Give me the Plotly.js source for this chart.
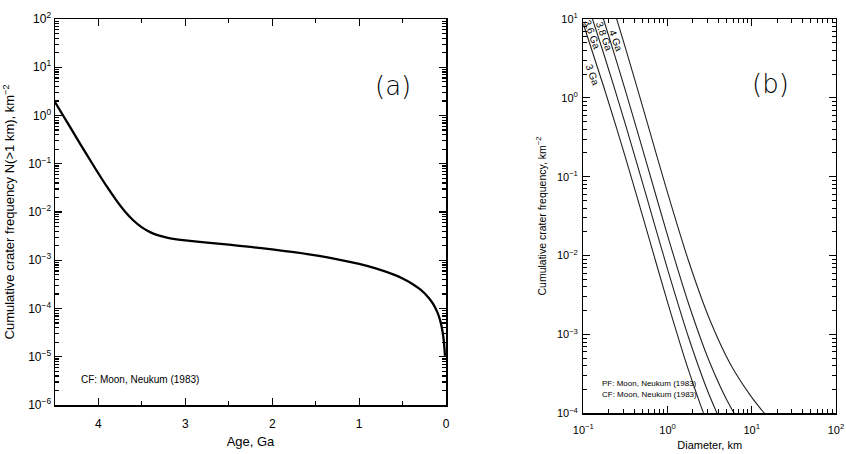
<!DOCTYPE html>
<html><head><meta charset="utf-8">
<script src="https://cdn.plot.ly/plotly-3.0.1.min.js"></script>
<style>html,body{margin:0;padding:0;background:#fff}#chart{width:846px;height:454px}</style>
</head><body><div id="chart"></div>
<script>
// Panel (a): cumulative crater frequency N(>1 km) versus age (Neukum 1983 chronology)
const ageGa = [4.5, 4.4, 4.3, 4.2, 4.1, 4.0, 3.9, 3.8, 3.7, 3.6, 3.5, 3.4, 3.3, 3.2, 3.1, 3.0,
  2.75, 2.5, 2.25, 2.0, 1.75, 1.5, 1.25, 1.0, 0.8, 0.6, 0.5, 0.4, 0.3, 0.2, 0.15, 0.1,
  0.07, 0.05, 0.035, 0.025, 0.018, 0.012];
const cumN1km = [1.906, 0.9548, 0.4792, 0.2414, 0.1224, 0.0628, 0.0330, 0.01805, 0.01053, 0.006735,
  0.004791, 0.003778, 0.003230, 0.002914, 0.002714, 0.002572,
  0.002315, 0.002097, 0.001886, 0.001676, 0.0014665, 0.001257, 0.0010475, 0.000838, 0.00067,
  0.000503, 0.000419, 0.000335, 0.000251, 0.000168, 0.000126, 0.000084,
  0.000059, 0.000042, 0.000029, 0.000021, 0.000015, 0.0000104];

// Panel (b): isochrons, cumulative crater frequency versus diameter
const diameterKm = [0.1, 0.17783, 0.31623, 0.56234, 1, 1.7783, 3.1623, 5.6234, 10, 13.335, 17.783];
const isoAges = ['3 Ga', '3.6 Ga', '3.8 Ga', '4 Ga'];
const iso3Ga  = [8.70, 1.306, 0.1762, 0.02150, 0.002572, 3.494e-4, 6.33e-5, 1.70e-5, 6.5e-6, 4.4e-6, 3.0e-6];
const iso36Ga = [22.8, 3.42, 0.4614, 0.05630, 0.006735, 9.149e-4, 1.658e-4, 4.44e-5, 1.708e-5, 1.156e-5, 7.93e-6];
const iso38Ga = [61.1, 9.17, 1.237, 0.1510, 0.01805, 0.002453, 4.446e-4, 1.190e-4, 4.58e-5, 3.10e-5, 2.13e-5];
const iso4Ga  = [212.6, 31.9, 4.305, 0.5253, 0.06281, 0.008532, 0.001547, 4.139e-4, 1.594e-4, 1.078e-4, 7.40e-5];
const isoSeries = [iso3Ga, iso36Ga, iso38Ga, iso4Ga];
// label anchor (log10 D, log10 N) for each isochron label
const isoLabelLogD = [-0.897, -0.895, -0.760, -0.606];
const isoLabelLogN = [0.290, 0.804, 0.785, 0.721];

const yTicksA = [1e-6, 1e-5, 1e-4, 1e-3, 1e-2, 1e-1, 1, 10, 100];
const yTickTextA = ['10<sup>\u22126</sup>','10<sup>\u22125</sup>','10<sup>\u22124</sup>','10<sup>\u22123</sup>',
  '10<sup>\u22122</sup>','10<sup>\u22121</sup>','10<sup>0</sup>','10<sup>1</sup>','10<sup>2</sup>'];
const xTicksB = [0.1, 1, 10, 100];
const xTickTextB = ['10<sup>\u22121</sup>','10<sup>0</sup>','10<sup>1</sup>','10<sup>2</sup>'];
const yTicksB = [1e-4, 1e-3, 1e-2, 1e-1, 1, 10];
const yTickTextB = ['10<sup>\u22124</sup>','10<sup>\u22123</sup>','10<sup>\u22122</sup>','10<sup>\u22121</sup>','10<sup>0</sup>','10<sup>1</sup>'];

const FONT = 'Liberation Sans, Arial, sans-serif';
const traces = [{
  x: ageGa, y: cumN1km, xaxis: 'x', yaxis: 'y', mode: 'lines',
  line: {color: '#000', width: 2.3, shape: 'spline', smoothing: 0.8}, hoverinfo: 'skip'
}];
isoSeries.forEach((s, i) => traces.push({
  x: diameterKm, y: s, xaxis: 'x2', yaxis: 'y2', mode: 'lines', name: isoAges[i],
  line: {color: '#222', width: 1.1, shape: 'spline', smoothing: 0.8}, hoverinfo: 'skip'
}));

const axBase = {showgrid: false, zeroline: false, showline: true, linecolor: '#000', mirror: 'allticks',
  ticks: 'inside', tickcolor: '#000', color: '#000'};

const annotations = [
  {text: '(a)', xref: 'paper', yref: 'paper', x: 393/846, y: 1 - 69/454, showarrow: false,
   font: {family: 'DejaVu Sans', size: 26, color: '#000', weight: 200}},
  {text: '(b)', xref: 'paper', yref: 'paper', x: 791/846, y: 1 - 67/454, showarrow: false,
   font: {family: 'DejaVu Sans', size: 26, color: '#000', weight: 200}},
  {text: 'CF: Moon, Neukum (1983)', xref: 'paper', yref: 'paper', x: 79/846, y: 1 - 379/454,
   xanchor: 'left', yanchor: 'middle', showarrow: false, font: {family: FONT, size: 10, color: '#000'}},
  {text: 'PF: Moon, Neukum (1983)', xref: 'paper', yref: 'paper', x: 600/846, y: 1 - 383/454,
   xanchor: 'left', yanchor: 'middle', showarrow: false, font: {family: FONT, size: 8, color: '#000'}},
  {text: 'CF: Moon, Neukum (1983)', xref: 'paper', yref: 'paper', x: 600/846, y: 1 - 394/454,
   xanchor: 'left', yanchor: 'middle', showarrow: false, font: {family: FONT, size: 8, color: '#000'}}
];
isoAges.forEach((t, i) => annotations.push({
  text: t, xref: 'x2', yref: 'y2', x: isoLabelLogD[i], y: isoLabelLogN[i], showarrow: false,
  textangle: 70, font: {family: FONT, size: 10, color: '#000'}
}));

const layout = {
  width: 846, height: 454, margin: {l: 0, r: 0, t: 0, b: 0},
  paper_bgcolor: '#fff', plot_bgcolor: '#fff', showlegend: false,
  font: {family: FONT, color: '#000'},
  xaxis: Object.assign({}, axBase, {
    domain: [55/846, 446/846], anchor: 'y', range: [4.5, 0], dtick: 1, tick0: 0,
    ticklen: 7, tickwidth: 1.2, linewidth: 1.5, ticklabelstandoff: 7,
    minor: {dtick: 0.5, ticks: 'inside', ticklen: 4, tickcolor: '#000', showgrid: false},
    tickfont: {size: 12, family: FONT},
    title: {text: 'Age, Ga', font: {size: 13, family: FONT}, standoff: 7}
  }),
  yaxis: Object.assign({}, axBase, {
    domain: [1 - 405/454, 1 - 19/454], anchor: 'x', type: 'log', range: [-6, 2],
    tickmode: 'array', tickvals: yTicksA, ticktext: yTickTextA,
    ticklen: 7, tickwidth: 1.2, linewidth: 1.5,
    minor: {dtick: 'D1', ticks: 'inside', ticklen: 4, tickcolor: '#000', showgrid: false},
    tickfont: {size: 12, family: FONT},
    title: {text: 'Cumulative crater frequency N(>1 km), km<sup>\u22122</sup>', font: {size: 13, family: FONT}, standoff: 10}
  }),
  xaxis2: Object.assign({}, axBase, {
    domain: [583.3/846, 836/846], anchor: 'y2', type: 'log', range: [-1, 2],
    tickmode: 'array', tickvals: xTicksB, ticktext: xTickTextB,
    ticklen: 7, tickwidth: 1, linewidth: 1.2, ticklabelstandoff: 6,
    minor: {dtick: 'D1', ticks: 'inside', ticklen: 4, tickcolor: '#000', showgrid: false},
    tickfont: {size: 11, family: FONT},
    title: {text: 'Diameter, km', font: {size: 11, family: FONT}, standoff: 6}
  }),
  yaxis2: Object.assign({}, axBase, {
    domain: [1 - 413.3/454, 1 - 19/454], anchor: 'x2', type: 'log', range: [-4, 1],
    tickmode: 'array', tickvals: yTicksB, ticktext: yTickTextB,
    ticklen: 7, tickwidth: 1, linewidth: 1.2, ticklabelstandoff: 2,
    minor: {dtick: 'D1', ticks: 'inside', ticklen: 4, tickcolor: '#000', showgrid: false},
    tickfont: {size: 11, family: FONT},
    title: {text: 'Cumulative crater frequency, km<sup>\u22122</sup>', font: {size: 10.5, family: FONT}, standoff: 8}
  }),
  annotations: annotations
};

Plotly.newPlot('chart', traces, layout, {staticPlot: true, displayModeBar: false});
</script>
</body></html>
